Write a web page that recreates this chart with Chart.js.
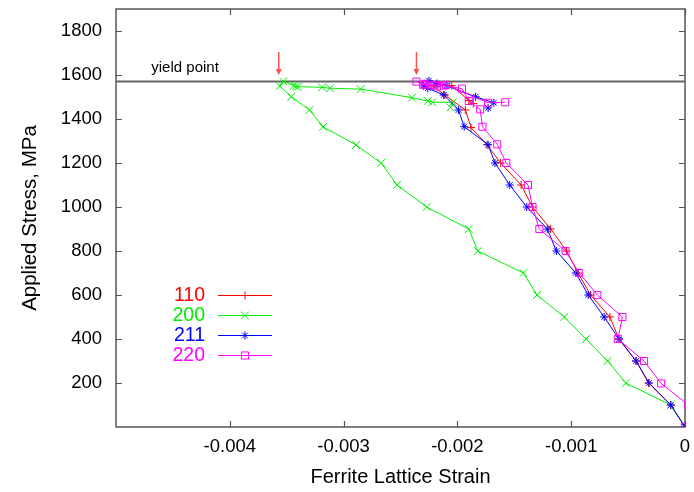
<!DOCTYPE html>
<html>
<head>
<meta charset="utf-8">
<script src="https://cdn.jsdelivr.net/npm/chart.js@4.4.1/dist/chart.umd.min.js"></script>
<style>
  html, body { margin: 0; padding: 0; background: #fff; }
</style>
</head>
<body>
<canvas id="chart" width="694" height="492"></canvas>
<script>
// lattice strain vs applied stress, one pair of arrays per reflection
const strain110 = [0, -0.000125, -0.00032, -0.00043, -0.00058, -0.00066, -0.00083, -0.00094, -0.00104, -0.00118, -0.00134, -0.00144, -0.00162, -0.00174, -0.00188, -0.00193, -0.00211, -0.00221, -0.00218, -0.00205, -0.0019, -0.00186]
const stress110 = [0, 100, 200, 300, 400, 500, 600, 700, 800, 900, 1000, 1100, 1200, 1283, 1361, 1441, 1509, 1547, 1562, 1552, 1484, 1470]

const strain200 = [0, -0.000125, -0.00052, -0.00068, -0.00087, -0.00106, -0.0013, -0.00142, -0.00182, -0.0019, -0.00227, -0.00253, -0.00267, -0.00289, -0.00318, -0.0033, -0.00346, -0.00356, -0.00353, -0.00344, -0.00342, -0.0034, -0.00319, -0.00312, -0.00285, -0.0024, -0.00226, -0.00222, -0.00204, -0.00206]
const stress200 = [0, 100, 200, 300, 400, 500, 600, 700, 800, 900, 1000, 1100, 1200, 1282, 1364, 1441, 1501, 1550, 1571, 1551, 1548, 1547, 1544, 1540, 1536, 1497, 1482, 1476, 1476, 1452]

const strain211 = [0, -0.000125, -0.000316, -0.00043, -0.00058, -0.00071, -0.00085, -0.00096, -0.00113, -0.00121, -0.00139, -0.00154, -0.00167, -0.00173, -0.00194, -0.00199, -0.00212, -0.00226, -0.0023, -0.00225, -0.00218, -0.0021, -0.00184, -0.00168, -0.00173]
const stress211 = [0, 100, 200, 300, 400, 500, 600, 700, 800, 900, 1000, 1100, 1200, 1283, 1365, 1441, 1509, 1540, 1550, 1574, 1558, 1552, 1501, 1474, 1450]

const strain220 = [0, 0.00003, -0.00021, -0.00036, -0.00059, -0.00055, -0.00077, -0.00093, -0.00105, -0.00128, -0.00134, -0.00138, -0.00157, -0.00165, -0.00178, -0.0018, -0.0019, -0.00196, -0.00212, -0.00218, -0.00224, -0.0023, -0.00236, -0.00228, -0.0022, -0.0021, -0.00173, -0.00158]
const stress220 = [0, 100, 198, 300, 400, 500, 600, 700, 800, 900, 1000, 1100, 1200, 1285, 1365, 1444, 1482, 1538, 1552, 1548, 1553, 1556, 1570, 1560, 1556, 1555, 1474, 1476]

const yieldStrain = [-0.005, 0]
const yieldStress = [1570, 1570]

const xTicks = [-0.004, -0.003, -0.002, -0.001, 0]
const yTicks = [200, 400, 600, 800, 1000, 1200, 1400, 1600, 1800]

const arrowStrain = [-0.00357, -0.00236]
const arrowFrom = 1705, arrowTo = 1600

const series = [
  { label: '110', xs: strain110, ys: stress110, color: '#ff0000', style: 'cross', radius: 4 },
  { label: '200', xs: strain200, ys: stress200, color: '#00ee00', style: 'crossRot', radius: 5.5 },
  { label: '211', xs: strain211, ys: stress211, color: '#0000ff', style: 'star', radius: 4 },
  { label: '220', xs: strain220, ys: stress220, color: '#ff00ff', style: 'rect', radius: 5 }
]

const FONT = '"Liberation Sans", Arial, sans-serif'
Chart.defaults.font.family = FONT

const pts = (xs, ys) => xs.map((x, i) => ({ x, y: ys[i] }))

// gnuplot-ish frame, inward ticks, arrows, yield label and the text legend
const decor = {
  id: 'decor',
  beforeDatasetsDraw(chart) {
    const { ctx, chartArea: a, scales: { x, y } } = chart
    ctx.save()
    ctx.strokeStyle = '#555'
    ctx.lineWidth = 1.5
    ctx.strokeRect(a.left, a.top, a.right - a.left, a.bottom - a.top)
    ctx.lineWidth = 1.2
    ctx.beginPath()
    xTicks.forEach(v => {
      const px = Math.round(x.getPixelForValue(v)) + 0.5
      ctx.moveTo(px, a.bottom); ctx.lineTo(px, a.bottom - 6)
      ctx.moveTo(px, a.top); ctx.lineTo(px, a.top + 6)
    })
    yTicks.forEach(v => {
      const py = Math.round(y.getPixelForValue(v)) + 0.5
      ctx.moveTo(a.left, py); ctx.lineTo(a.left + 6, py)
      ctx.moveTo(a.right, py); ctx.lineTo(a.right - 6, py)
    })
    ctx.stroke()
    ctx.restore()
  },
  afterDraw(chart) {
    const { ctx, scales: { x, y } } = chart
    ctx.save()

    // arrows marking the yield onset
    ctx.strokeStyle = '#ff5050'
    ctx.fillStyle = '#ff5050'
    ctx.lineWidth = 1.5
    arrowStrain.forEach(s => {
      const px = x.getPixelForValue(s)
      const y0 = y.getPixelForValue(arrowFrom), y1 = y.getPixelForValue(arrowTo)
      ctx.beginPath(); ctx.moveTo(px, y0); ctx.lineTo(px, y1 - 4); ctx.stroke()
      ctx.beginPath(); ctx.moveTo(px - 3, y1 - 6); ctx.lineTo(px + 3, y1 - 6); ctx.lineTo(px, y1); ctx.closePath(); ctx.fill()
    })

    // yield label
    ctx.fillStyle = '#000'
    ctx.font = '15px ' + FONT
    ctx.textAlign = 'left'
    ctx.textBaseline = 'alphabetic'
    ctx.fillText('yield point', x.getPixelForValue(-0.00469), y.getPixelForValue(1614))

    // legend: label on the left, line sample with marker on the right
    ctx.font = '19.5px ' + FONT
    ctx.textAlign = 'right'
    ctx.textBaseline = 'middle'
    series.forEach((s, i) => {
      const ly = 295 + i * 20
      ctx.fillStyle = s.color
      ctx.fillText(s.label, 205, ly + 1)
      ctx.strokeStyle = s.color
      ctx.fillStyle = 'rgba(0,0,0,0)'
      ctx.lineWidth = 1
      ctx.beginPath(); ctx.moveTo(218, ly + 0.5); ctx.lineTo(272, ly + 0.5); ctx.stroke()
      Chart.helpers.drawPoint(ctx, { pointStyle: s.style, radius: s.radius, borderWidth: 1 }, 245, ly + 0.5)
    })
    ctx.restore()
  }
}

const datasets = series.map((s, i) => ({
  label: s.label,
  data: pts(s.xs, s.ys),
  showLine: true,
  borderColor: s.color,
  backgroundColor: 'rgba(0,0,0,0)',
  borderWidth: 1,
  pointStyle: s.style,
  pointRadius: s.radius,
  pointBorderWidth: 1,
  pointBorderColor: s.color,
  pointBackgroundColor: 'rgba(0,0,0,0)',
  order: 4 - i
}))

datasets.push({
  label: 'yield',
  data: pts(yieldStrain, yieldStress),
  showLine: true,
  borderColor: '#666',
  borderWidth: 2,
  pointRadius: 0,
  order: 10
})

new Chart(document.getElementById('chart'), {
  type: 'scatter',
  data: { datasets },
  options: {
    responsive: false,
    animation: false,
    devicePixelRatio: 1,
    layout: { padding: { top: 9, right: 9, left: 0, bottom: 0 } },
    plugins: { legend: { display: false }, tooltip: { enabled: false } },
    scales: {
      x: {
        type: 'linear', min: -0.005, max: 0,
        afterBuildTicks: s => { s.ticks = xTicks.map(v => ({ value: v })) },
        afterFit: s => { s.height = 65; s.paddingLeft = 0; s.paddingRight = 0 },
        grid: { display: false, drawTicks: false },
        border: { display: false },
        ticks: {
          padding: 9, color: '#000', autoSkip: false, maxRotation: 0,
          font: { size: 18.5 },
          callback: v => v === 0 ? '0' : v.toFixed(3)
        },
        title: { display: true, text: 'Ferrite Lattice Strain', color: '#000', font: { size: 20 }, padding: { top: 3, bottom: 3 } }
      },
      y: {
        type: 'linear', min: 0, max: 1900,
        afterBuildTicks: s => { s.ticks = yTicks.map(v => ({ value: v })) },
        afterFit: s => { s.width = 116; s.paddingTop = 0; s.paddingBottom = 0 },
        grid: { display: false, drawTicks: false },
        border: { display: false },
        ticks: { padding: 14, color: '#000', font: { size: 18.5 }, callback: v => String(v) },
        title: { display: true, text: 'Applied Stress, MPa', color: '#000', font: { size: 20.5 }, padding: { top: 18, bottom: 18 } }
      }
    }
  },
  plugins: [decor]
})
</script>
</body>
</html>
